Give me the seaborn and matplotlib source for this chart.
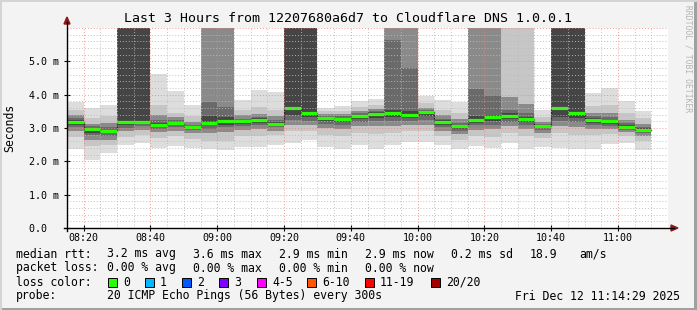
import numpy as np
import matplotlib
matplotlib.use("Agg")
import matplotlib.pyplot as plt
import seaborn as sns
from matplotlib.patches import Rectangle, Polygon
from matplotlib.lines import Line2D

# ---------------- data (ms) ----------------
# 5-minute bins, minutes after 08:15 (bin start)
bin_start = [0, 5, 10, 15, 20, 25, 30, 35, 40, 45, 50, 55, 60, 65, 70, 75, 80, 85,
             90, 95, 100, 105, 110, 115, 120, 125, 130, 135, 140, 145, 150, 155, 160, 165, 170]
median = [3.19, 2.96, 2.90, 3.18, 3.19, 3.09, 3.15, 3.02, 3.15, 3.20, 3.20, 3.25, 3.13, 3.59, 3.45,
          3.29, 3.27, 3.37, 3.43, 3.44, 3.38, 3.47, 3.18, 3.05, 3.24, 3.32, 3.37, 3.26, 3.05, 3.59,
          3.45, 3.24, 3.20, 3.04, 2.94]
# smoke bands: outer (lightest) to inner (darkest); 9.0 = off the top of the scale
b1_lo = [2.38, 2.03, 2.25, 2.48, 2.55, 2.40, 2.45, 2.40, 2.38, 2.35, 2.42, 2.42, 2.50, 2.56, 2.65,
         2.43, 2.36, 2.48, 2.36, 2.48, 2.58, 2.58, 2.48, 2.36, 2.46, 2.40, 2.55, 2.38, 2.42, 2.40,
         2.38, 2.38, 2.53, 2.56, 2.33]
b1_hi = [3.77, 3.60, 3.70, 9.0, 9.0, 4.63, 4.10, 3.68, 9.0, 9.0, 3.85, 4.15, 4.07, 9.0, 9.0,
         3.59, 3.67, 3.82, 3.87, 9.0, 9.0, 3.97, 3.85, 3.79, 9.0, 9.0, 9.0, 9.0, 3.53, 9.0,
         9.0, 4.05, 4.21, 3.82, 3.52]
b2_lo = [2.72, 2.45, 2.50, 2.72, 2.80, 2.70, 2.75, 2.68, 2.62, 2.62, 2.75, 2.75, 2.78, 2.90, 2.92,
         2.80, 2.75, 2.85, 2.82, 2.85, 2.90, 2.92, 2.75, 2.65, 2.75, 2.72, 2.85, 2.75, 2.70, 2.85,
         2.80, 2.78, 2.82, 2.75, 2.60]
b2_hi = [3.55, 3.30, 3.35, 9.0, 9.0, 3.70, 3.45, 3.35, 9.0, 9.0, 3.55, 3.62, 3.55, 9.0, 9.0,
         3.50, 3.52, 3.62, 3.68, 9.0, 9.0, 3.75, 3.55, 3.45, 9.0, 9.0, 9.0, 9.0, 3.32, 9.0,
         9.0, 3.65, 3.70, 3.45, 3.30]
b3_lo = [2.92, 2.65, 2.65, 2.90, 2.95, 2.88, 2.92, 2.85, 2.85, 2.88, 2.95, 2.98, 2.92, 3.10, 3.10,
         3.00, 2.98, 3.05, 3.05, 3.05, 3.08, 3.10, 2.92, 2.82, 2.95, 2.98, 3.05, 2.98, 2.85, 3.05,
         3.02, 2.98, 2.98, 2.88, 2.75]
b3_hi = [3.40, 3.12, 3.15, 9.0, 9.0, 3.40, 3.32, 3.18, 9.0, 9.0, 3.38, 3.42, 3.35, 9.0, 9.0,
         3.42, 3.42, 3.50, 3.56, 9.0, 9.0, 3.60, 3.40, 3.28, 9.0, 9.0, 3.92, 3.72, 3.18, 9.0,
         9.0, 3.45, 3.45, 3.25, 3.12]
b4_lo = [3.02, 2.78, 2.75, 3.00, 3.05, 2.97, 3.02, 2.93, 2.98, 3.02, 3.05, 3.08, 3.02, 3.25, 3.22,
         3.12, 3.10, 3.18, 3.20, 3.20, 3.20, 3.25, 3.03, 2.92, 3.08, 3.10, 3.18, 3.10, 2.94, 3.20,
         3.18, 3.08, 3.07, 2.95, 2.84]
b4_hi = [3.30, 3.05, 3.02, 9.0, 9.0, 3.25, 3.24, 3.10, 3.79, 3.64, 3.28, 3.33, 3.24, 9.0, 9.0,
         3.36, 3.35, 3.44, 3.50, 5.64, 4.79, 3.53, 3.28, 3.15, 4.17, 3.95, 3.55, 3.45, 3.11, 9.0,
         9.0, 3.36, 3.32, 3.15, 3.03]
b5_lo = [3.08, 2.85, 2.84, 3.10, 3.12, 3.03, 3.08, 2.97, 3.08, 3.10, 3.12, 3.16, 3.07, 3.40, 3.32,
         3.20, 3.18, 3.27, 3.30, 3.32, 3.30, 3.35, 3.10, 2.98, 3.15, 3.20, 3.28, 3.18, 2.99, 3.32,
         3.30, 3.15, 3.13, 2.99, 2.89]
b5_hi = [3.24, 3.00, 2.95, 9.0, 9.0, 3.15, 3.19, 3.06, 3.35, 3.32, 3.24, 3.29, 3.17, 9.0, 9.0,
         3.33, 3.31, 3.40, 3.47, 3.55, 3.50, 3.51, 3.23, 3.09, 3.35, 3.40, 3.45, 3.33, 3.08, 9.0,
         9.0, 3.29, 3.25, 3.09, 2.99]

x_ticks = [5, 25, 45, 65, 85, 105, 125, 145, 165]
x_labels = ["08:20", "08:40", "09:00", "09:20", "09:40", "10:00", "10:20", "10:40", "11:00"]
y_ticks = [0, 1, 2, 3, 4, 5]
y_labels = ["0.0  ", "1.0 m", "2.0 m", "3.0 m", "4.0 m", "5.0 m"]

loss_labels = ["0", "1", "2", "3", "4-5", "6-10", "11-19", "20/20"]
loss_colors = ["#26ff00", "#00b8ff", "#0059ff", "#7e00ff", "#ff00ff", "#ff5500", "#ff0000", "#a10000"]

band_colors = ["#dddddd", "#c6c6c6", "#8a8a8a", "#6a6a6a", "#454545"]

# ---------------- figure ----------------
W, H = 697, 310
MONO = "DejaVu Sans Mono"
plt.rcParams["font.family"] = [MONO, "DejaVu Sans"]

fig = plt.figure(figsize=(W / 100, H / 100), dpi=100, facecolor="#f3f3f3")


def fx(px):
    return px / W


def fy(py):
    return 1 - py / H


L, R, T, B = 67, 668, 28, 228
ax = fig.add_axes([fx(L), fy(B), (R - L) / W, (B - T) / H])
ax.set_facecolor("white")

edges = np.array(bin_start + [bin_start[-1] + 5], dtype=float)


def ext(a):
    return np.array(list(a) + [a[-1]], dtype=float)


bands = [(b1_lo, b1_hi), (b2_lo, b2_hi), (b3_lo, b3_hi), (b4_lo, b4_hi), (b5_lo, b5_hi)]
for (lo, hi), col in zip(bands, band_colors):
    ax.fill_between(edges, ext(lo), ext(hi), step="post", color=col, lw=0, zorder=2)

# median step line (dark) and green loss-coloured segments
sns.lineplot(x=edges, y=ext(median), drawstyle="steps-post", color="#202020", lw=0.8,
             ax=ax, zorder=4, legend=False)
ax.hlines(median, np.array(bin_start), np.array(bin_start) + 5, color=loss_colors[0],
          lw=2.3, zorder=5)

ax.set_xlim(0, 180)
ax.set_ylim(0, 6)

# grid (drawn over the smoke, like rrdtool)
for m in range(0, 181, 5):
    if m in x_ticks:
        ax.axvline(m, color="#f08080", lw=0.7, ls=(0, (1, 2)), alpha=0.8, zorder=6)
    elif m > 0:
        ax.axvline(m, color="#bbbbbb", lw=0.7, ls=(0, (1, 2)), alpha=0.9, zorder=6)
for k in range(1, 31):
    v = k * 0.2
    if k % 5 == 0:
        ax.axhline(v, color="#f08080", lw=0.7, ls=(0, (1, 2)), alpha=0.8, zorder=6)
    else:
        ax.axhline(v, color="#bbbbbb", lw=0.7, ls=(0, (1, 2)), alpha=0.9, zorder=6)

for s in ["top", "right", "left", "bottom"]:
    ax.spines[s].set_visible(False)

ax.set_xticks(x_ticks)
ax.set_xticklabels(x_labels, fontsize=7.2, family=MONO)
ax.set_yticks(y_ticks)
ax.set_yticklabels(y_labels, fontsize=7.2, family=MONO)
ax.tick_params(axis="x", direction="inout", length=4, width=0.8, pad=1.5, color="#000000")
ax.tick_params(axis="y", direction="inout", length=4, width=0.8, pad=3.6, color="#000000")

# axis lines with arrows
fig.add_artist(Line2D([fx(L), fx(L)], [fy(B + 3), fy(22)], color="black", lw=1.0))
fig.add_artist(Line2D([fx(L - 3), fx(674)], [fy(B), fy(B)], color="black", lw=1.0))
fig.add_artist(Polygon([[fx(L - 3), fy(24)], [fx(L + 3), fy(24)], [fx(L), fy(17)]],
                       closed=True, color="#8b1a1a"))
fig.add_artist(Polygon([[fx(671), fy(B - 3)], [fx(671), fy(B + 3)], [fx(678), fy(B)]],
                       closed=True, color="#8b1a1a"))

# title and labels
fig.text(fx(348), fy(19), "Last 3 Hours from 12207680a6d7 to Cloudflare DNS 1.0.0.1",
         ha="center", va="center", fontsize=9.5, family=MONO, color="black")
fig.text(fx(10), fy(128), "Seconds", rotation=90, ha="center", va="center",
         fontsize=8.3, family=MONO)
fig.text(fx(688), fy(5), "RRDTOOL / TOBI OETIKER", rotation=270, ha="center", va="top",
         fontsize=5.8, family=MONO, color="#b4b4b4")

LF = 8.3
row1 = [(16, "median rtt:"), (107, "3.2 ms avg"), (193, "3.6 ms max"), (279, "2.9 ms min"),
        (365, "2.9 ms now"), (451, "0.2 ms sd"), (530, "18.9"), (579, "am/s")]
row2 = [(16, "packet loss:"), (107, "0.00 % avg"), (193, "0.00 % max"), (279, "0.00 % min"),
        (365, "0.00 % now")]
for x, t in row1:
    fig.text(fx(x), fy(254), t, ha="left", va="center", fontsize=LF, family=MONO)
for x, t in row2:
    fig.text(fx(x), fy(268), t, ha="left", va="center", fontsize=LF, family=MONO)

fig.text(fx(16), fy(282), "loss color:", ha="left", va="center", fontsize=LF, family=MONO)
box_x = [108, 145, 182, 219, 257, 307, 365, 431]
for bx, lab, col in zip(box_x, loss_labels, loss_colors):
    fig.add_artist(Rectangle((fx(bx), fy(287)), 9 / W, 9 / H, facecolor=col,
                             edgecolor="black", lw=0.7))
    fig.text(fx(bx + 15), fy(282), lab, ha="left", va="center", fontsize=LF, family=MONO)

fig.text(fx(16), fy(296), "probe:", ha="left", va="center", fontsize=LF, family=MONO)
fig.text(fx(107), fy(296), "20 ICMP Echo Pings (56 Bytes) every 300s", ha="left",
         va="center", fontsize=LF, family=MONO)
fig.text(fx(680), fy(296), "Fri Dec 12 11:14:29 2025", ha="right", va="center",
         fontsize=LF, family=MONO)

# 3D-ish frame
fig.add_artist(Rectangle((0, 0), 1, 2 / H, color="#a0a0a0", lw=0))
fig.add_artist(Rectangle((1 - 3 / W, 0), 3 / W, 1, color="#a0a0a0", lw=0))
fig.add_artist(Rectangle((0, 0), 1.5 / W, 1, color="#d4d4d4", lw=0))
fig.add_artist(Rectangle((0, 1 - 1.5 / H), 1, 1.5 / H, color="#d4d4d4", lw=0))

fig.savefig("out.png", dpi=100, facecolor=fig.get_facecolor())
